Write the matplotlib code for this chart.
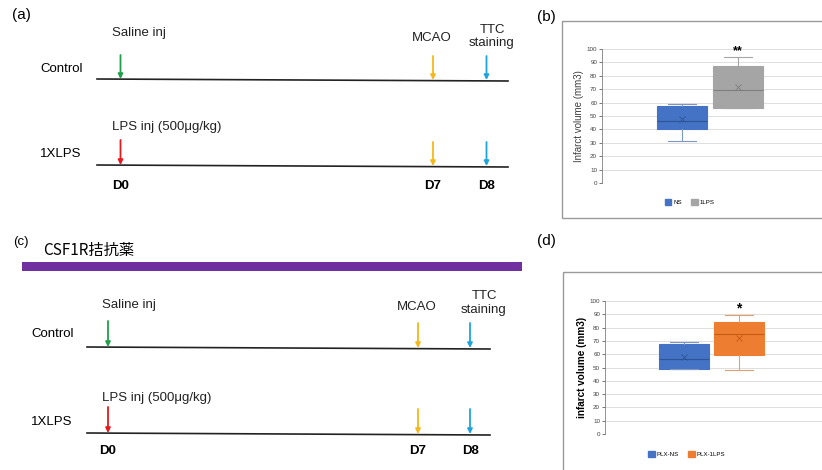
import numpy as np
import matplotlib
matplotlib.use('Agg')
import matplotlib.pyplot as plt
from matplotlib.patches import Rectangle, Patch

plt.rcParams['font.family'] = ['Liberation Sans', 'DejaVu Sans']

# ---- data ----
groups = ['Control', '1XLPS']
injections = ['Saline inj', 'LPS inj (500μg/kg)']
injection_colors = ['#1fa04a', '#e8191c']
day_labels = ['D0', 'D7', 'D8']
event_labels = ['MCAO', 'TTC\nstaining']
event_colors = ['#f5b81a', '#1ea4dc']
drug_label = 'CSF1R拮抗薬'

# box stats: min, q1, median, mean, q3, max
b_names = ['NS', '1LPS']
b_whislo = [31.0, 56.0]
b_q1 = [40.3, 56.0]
b_med = [46.5, 69.4]
b_mean = [47.5, 71.4]
b_q3 = [57.8, 87.5]
b_whishi = [58.6, 93.8]
b_sig = ['', '**']

d_names = ['PLX-NS', 'PLX-1LPS']
d_whislo = [48.8, 47.9]
d_q1 = [48.8, 59.6]
d_med = [56.2, 75.0]
d_mean = [58.2, 72.4]
d_q3 = [67.4, 84.0]
d_whishi = [69.4, 89.7]
d_sig = ['', '*']

W, H = 822, 470
fig = plt.figure(figsize=(W / 100, H / 100), dpi=100)

# overlay in pixel coordinates for the schematic parts
ov = fig.add_axes([0, 0, 1, 1])
ov.set_xlim(0, W)
ov.set_ylim(H, 0)
ov.axis('off')


def draw_timeline(ax, lay):
    '''draw the two rows of the protocol timeline in pixel coords'''
    fs = 9.5
    ax.text(lay['tag_x'], lay['tag_y'], lay['tag'], fontsize=lay['tag_fs'],
            ha='left', va='center')
    for i, grp in enumerate(groups):
        ly = lay['line_y'][i]
        ax.plot([lay['x0'], lay['x1']], [ly - 1, ly + 1], color='#222222', lw=1.2)
        ax.text(lay['grp_x'], lay['grp_y'][i], grp, fontsize=fs, ha='left', va='center')
        # injection arrow on day 0
        ax.annotate('', xy=(lay['day_x'][0], ly - 1), xytext=(lay['day_x'][0], ly - lay['arr_len'][i]),
                    arrowprops=dict(arrowstyle='-|>', color=injection_colors[i], lw=1.3,
                                    mutation_scale=7, shrinkA=0, shrinkB=0))
        ax.text(lay['inj_x'], lay['inj_y'][i], injections[i], fontsize=fs,
                ha='left', va='center', color='#222222')
        for j, c in enumerate(event_colors):
            ax.annotate('', xy=(lay['day_x'][j + 1], ly), xytext=(lay['day_x'][j + 1], ly - lay['arr_len2']),
                        arrowprops=dict(arrowstyle='-|>', color=c, lw=1.3,
                                        mutation_scale=7, shrinkA=0, shrinkB=0))
    for j, lab in enumerate(event_labels):
        ax.text(lay['ev_x'][j], lay['ev_y'][j], lab, fontsize=fs, ha='center',
                va='center', linespacing=1.2, color='#222222')
    for j, lab in enumerate(day_labels):
        ax.text(lay['day_x'][j], lay['day_y'], lab, fontsize=fs, ha='center',
                va='center', fontweight='bold')


layout_a = dict(tag='(a)', tag_x=12, tag_y=15, tag_fs=11,
                x0=97, x1=508, line_y=[80, 166], grp_x=40, grp_y=[69, 154],
                day_x=[120.5, 433, 486.5], arr_len=[25, 26], arr_len2=24,
                inj_x=112, inj_y=[33, 127], ev_x=[432, 492], ev_y=[38, 36.5], day_y=186)
layout_c = dict(tag='(c)', tag_x=13, tag_y=242, tag_fs=9.5,
                x0=87, x1=490, line_y=[348, 434], grp_x=31, grp_y=[334, 422],
                day_x=[108, 418, 470], arr_len=[27, 27], arr_len2=25,
                inj_x=102, inj_y=[305, 398], ev_x=[417, 484], ev_y=[307, 303], day_y=451)

draw_timeline(ov, layout_a)
draw_timeline(ov, layout_c)

# drug bar
ov.text(43, 250, drug_label, fontsize=11, ha='left', va='center',
        family=['Noto Sans CJK JP', 'DejaVu Sans'])
ov.add_patch(Rectangle((22, 261.5), 500, 9, color='#7030a0', lw=0))

# frames around the box charts
ov.add_patch(Rectangle((562, 21), 270, 197, fill=False, ec='#9a9a9a', lw=1))
ov.add_patch(Rectangle((563, 272), 270, 210, fill=False, ec='#9a9a9a', lw=1))
ov.text(537, 17, '(b)', fontsize=11, ha='left', va='center')
ov.text(537, 241, '(d)', fontsize=11, ha='left', va='center')


def box_chart(rect, names, whislo, q1, med, mean, q3, whishi, sig,
              fills, meds, whisk, ylabel, bold, leg_xy, leg_gap):
    ax = fig.add_axes(rect)
    ax.patch.set_alpha(0)
    stats = []
    for k in range(len(names)):
        stats.append(dict(whislo=whislo[k], q1=q1[k], med=med[k], mean=mean[k],
                          q3=q3[k], whishi=whishi[k], fliers=[], label=names[k]))
    pos = [1, 2]
    bp = ax.bxp(stats, positions=pos, widths=0.9, patch_artist=True, showmeans=True,
                showfliers=False, manage_ticks=False)
    for k in range(len(names)):
        bp['boxes'][k].set(facecolor=fills[k], edgecolor=fills[k], lw=0.8)
        bp['medians'][k].set(color=meds[k], lw=0.8)
        bp['means'][k].set(marker='x', markeredgecolor=meds[k], markersize=4, markeredgewidth=0.6)
        for w in bp['whiskers'][2 * k:2 * k + 2] + bp['caps'][2 * k:2 * k + 2]:
            w.set(color=whisk[k], lw=0.8)
        for c in bp['caps'][2 * k:2 * k + 2]:
            c.set_xdata([pos[k] - 0.25, pos[k] + 0.25])
        if sig[k]:
            ax.text(pos[k], whishi[k] + 4.5, sig[k], ha='center', va='center',
                    fontsize=9 if len(sig[k]) > 1 else 10, fontweight='bold')
    ax.set_ylim(0, 100)
    ax.set_xlim(-0.43, 3.5)
    ax.set_yticks(np.arange(0, 101, 10))
    ax.yaxis.grid(True, color='#d9d9d9', lw=0.6)
    ax.set_axisbelow(True)
    ax.tick_params(axis='y', labelsize=4.5, length=2, width=0.5, pad=1.5, colors='#404040')
    ax.set_xticks([])
    for s in ['top', 'right', 'bottom']:
        ax.spines[s].set_visible(False)
    ax.spines['left'].set(color='#808080', lw=0.6)
    ax.axhline(0, color='#bfbfbf', lw=0.6)
    ax.set_ylabel(ylabel, fontsize=7.2 if bold else 7,
                  fontweight='bold' if bold else 'normal', labelpad=2,
                  color='#404040' if not bold else 'black')
    handles = [Patch(facecolor=fills[k], edgecolor=fills[k], label=names[k]) for k in range(len(names))]
    fig.legend(handles=handles, loc='center', bbox_to_anchor=(leg_xy[0] / W, 1 - leg_xy[1] / H),
               ncol=2, frameon=False, fontsize=4.4, handlelength=1.0, handleheight=1.0,
               handletextpad=0.4, columnspacing=leg_gap)
    return ax


box_chart([602 / W, 1 - 183 / H, (W - 602) / W, 134 / H],
          b_names, b_whislo, b_q1, b_med, b_mean, b_q3, b_whishi, b_sig,
          fills=['#4472c4', '#a5a5a5'], meds=['#2f5597', '#7f7f7f'],
          whisk=['#7f96c4', '#a5a5a5'],
          ylabel='Infarct volume (mm3)', bold=False, leg_xy=(690, 202), leg_gap=1.5)
box_chart([605 / W, 1 - 434 / H, (W - 605) / W, 133 / H],
          d_names, d_whislo, d_q1, d_med, d_mean, d_q3, d_whishi, d_sig,
          fills=['#4472c4', '#ed7d31'], meds=['#2f5597', '#c55a11'],
          whisk=['#7f96c4', '#e0a070'],
          ylabel='infarct volume (mm3)', bold=True, leg_xy=(687, 454), leg_gap=1.5)

fig.savefig('out.png', dpi=100)
